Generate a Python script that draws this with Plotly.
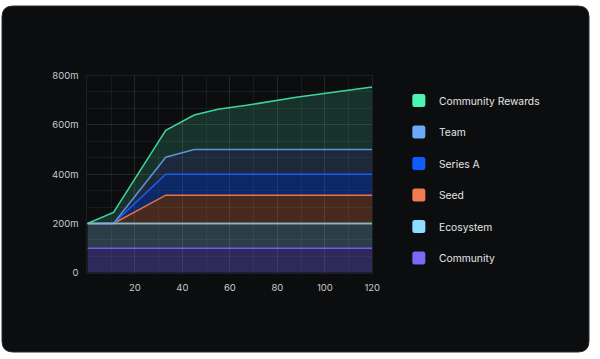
import plotly.graph_objects as go
import numpy as np

# ---- data ----
x_vals = [0, 11, 33, 45, 55, 67, 88, 100, 110, 120]
community = [100, 100, 100, 100, 100, 100, 100, 100, 100, 100]
ecosystem = [100, 100, 100, 100, 100, 100, 100, 100, 100, 100]
seed = [0, 0, 115, 115, 115, 115, 115, 115, 115, 115]
series_a = [0, 0, 85, 85, 85, 85, 85, 85, 85, 85]
team = [0, 0, 69, 100, 100, 100, 100, 100, 100, 100]
community_rewards = [0, 45, 109, 140, 163, 179, 212, 228, 241, 253]

series_names = ["Community", "Ecosystem", "Seed", "Series A", "Team", "Community Rewards"]
series_values = [community, ecosystem, seed, series_a, team, community_rewards]
legend_colors = ["#7a68f8", "#8edcff", "#f27a4f", "#0e5cff", "#6aaaf8", "#4cf5b4"]
line_colors = ["#6f5fee", "#86b8c4", "#e5744b", "#1a5cf5", "#5e93da", "#3fd49a"]
fill_colors = ["rgba(122,104,248,0.32)", "rgba(142,220,255,0.24)", "rgba(242,122,79,0.26)",
               "rgba(14,92,255,0.36)", "rgba(106,170,248,0.185)", "rgba(76,245,180,0.165)"]

y_tickvals = [0, 200, 400, 600, 800]
y_ticktext = ["0", "200m", "400m", "600m", "800m"]
x_tickvals = [20, 40, 60, 80, 100, 120]

CARD = "#0c0d0f"
FONT = "Inter"

fig = go.Figure()
cum = np.zeros(len(x_vals))
for i, (name, vals) in enumerate(zip(series_names, series_values)):
    cum = cum + np.array(vals, dtype=float)
    fig.add_trace(go.Scatter(
        x=x_vals, y=cum.tolist(), name=name, mode="lines",
        line=dict(color=line_colors[i], width=1.5),
        fill="tozeroy" if i == 0 else "tonexty",
        fillcolor=fill_colors[i], showlegend=False, hoverinfo="skip",
    ))

# redraw ecosystem boundary on top
eco_top = (np.array(community) + np.array(ecosystem)).tolist()
fig.add_trace(go.Scatter(x=x_vals, y=eco_top, mode="lines",
                         line=dict(color=line_colors[1], width=1.5),
                         showlegend=False, hoverinfo="skip"))

W, H = 600, 359
shapes = []
# card
cw, ch, r = 293.5, 173.0, 11
card_path = (f"M {-cw + r},{-ch} L {cw - r},{-ch} Q {cw},{-ch} {cw},{-ch + r} "
             f"L {cw},{ch - r} Q {cw},{ch} {cw - r},{ch} L {-cw + r},{ch} "
             f"Q {-cw},{ch} {-cw},{ch - r} L {-cw},{-ch + r} Q {-cw},{-ch} {-cw + r},{-ch} Z")
shapes.append(dict(type="path", xref="paper", yref="paper", xsizemode="pixel", ysizemode="pixel",
                   xanchor=299.5 / W, yanchor=1 - 178.5 / H, path=card_path,
                   fillcolor=CARD, line=dict(color="#2a2c2e", width=1), layer="below"))

annotations = []
row0, step = 97.5, 32.5
for i, name in enumerate(reversed(series_names)):
    col = list(reversed(legend_colors))[i]
    cy = row0 + i * step
    s, rr = 6.5, 2.5
    p = (f"M {-s + rr},{-s} L {s - rr},{-s} Q {s},{-s} {s},{-s + rr} L {s},{s - rr} Q {s},{s} {s - rr},{s} "
         f"L {-s + rr},{s} Q {-s},{s} {-s},{s - rr} L {-s},{-s + rr} Q {-s},{-s} {-s + rr},{-s} Z")
    shapes.append(dict(type="path", xref="paper", yref="paper", xsizemode="pixel", ysizemode="pixel",
                       xanchor=424.5 / W, yanchor=1 - cy / H, path=p,
                       fillcolor=col, line=dict(width=0), layer="above"))
    annotations.append(dict(text=name, xref="paper", yref="paper", x=443 / W, y=1 - cy / H,
                            xanchor="left", yanchor="middle", showarrow=False,
                            font=dict(family=FONT, size=10.3, color="#e4e5e6")))

fig.update_layout(
    width=W, height=H, margin=dict(l=0, r=0, t=0, b=0),
    paper_bgcolor="white", plot_bgcolor=CARD,
    shapes=shapes, annotations=annotations,
    font=dict(family=FONT, size=9.5, color="#c9cbcd"),
    xaxis=dict(domain=[88.6 / W, 377.3 / W], range=[0, 120], tickvals=x_tickvals,
               showgrid=True, gridcolor="rgba(255,255,255,0.055)", gridwidth=1,
               minor=dict(dtick=10, tick0=0, showgrid=True, gridcolor="rgba(255,255,255,0.055)"),
               zeroline=False, showline=True, linecolor="#1d1f22", mirror=True,
               ticks="", ticklabelstandoff=6, tickfont=dict(size=9.5, color="#c9cbcd")),
    yaxis=dict(domain=[1 - 275.3 / H, 1 - 71.7 / H], range=[0, 800], tickvals=y_tickvals,
               ticktext=y_ticktext, showgrid=True, gridcolor="rgba(255,255,255,0.055)",
               minor=dict(dtick=800 / 12, tick0=0, showgrid=True, gridcolor="rgba(255,255,255,0.055)"),
               zeroline=False, showline=True, linecolor="#1d1f22", mirror=True,
               ticks="", ticklabelstandoff=6, tickfont=dict(size=9.5, color="#c9cbcd")),
)

fig.write_html("out.html", config={"displayModeBar": False},
               post_script="document.body.style.margin='0';document.body.style.overflow='hidden';")
